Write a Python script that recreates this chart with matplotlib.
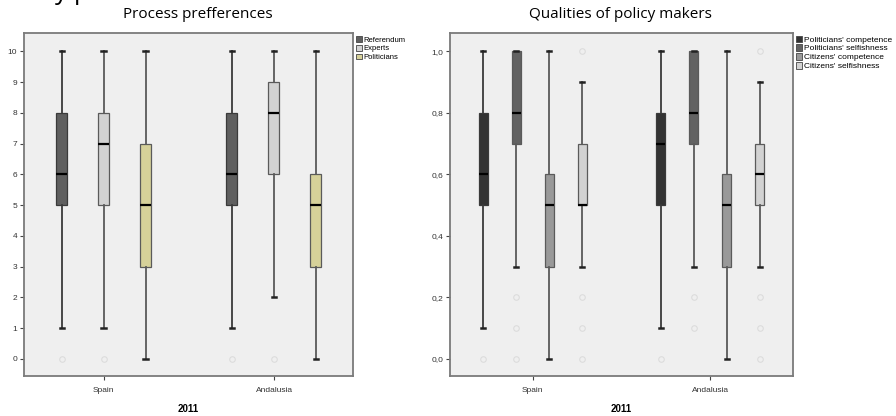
"""Two SPSS-style boxplots: process preferences and qualities of policy makers (2011)."""

import matplotlib
matplotlib.use('Agg')
import matplotlib.pyplot as plt
from matplotlib.patches import Patch

# ── Data ──
regions = ['Spain', 'Andalusia']

# Left panel: Process prefferences (0-10 scale)
proc_series = ['Referendum', 'Experts', 'Politicians']
proc_colors = ['#5f5f5f', '#d2d2d2', '#d6d199']
# per region, per series: whislo, q1, med, q3, whishi, outliers
proc_whislo = [[1, 1, 0], [1, 2, 0]]
proc_q1     = [[5, 5, 3], [5, 6, 3]]
proc_med    = [[6, 7, 5], [6, 8, 5]]
proc_q3     = [[8, 8, 7], [8, 9, 6]]
proc_whishi = [[10, 10, 10], [10, 10, 10]]
proc_fliers = [[[0], [0], []], [[0], [0], []]]

# Right panel: Qualities of policy makers (0-1 scale)
qual_series = ["Politicians' competence", "Politicians' selfishness",
               "Citizens' competence", "Citizens' selfishness"]
qual_colors = ['#333333', '#626262', '#999999', '#d2d2d2']
qual_whislo = [[0.1, 0.3, 0.0, 0.3], [0.1, 0.3, 0.0, 0.3]]
qual_q1     = [[0.5, 0.7, 0.3, 0.5], [0.5, 0.7, 0.3, 0.5]]
qual_med    = [[0.6, 0.8, 0.5, 0.5], [0.7, 0.8, 0.5, 0.6]]
qual_q3     = [[0.8, 1.0, 0.6, 0.7], [0.8, 1.0, 0.6, 0.7]]
qual_whishi = [[1.0, 1.0, 1.0, 0.9], [1.0, 1.0, 1.0, 0.9]]
qual_fliers = [[[0.0], [0.2, 0.1, 0.0], [], [1.0, 0.2, 0.1, 0.0]],
               [[0.0], [0.2, 0.1], [], [1.0, 0.2, 0.1, 0.0]]]

BG = '#efefef'
FRAME = '#7a7a7a'
TICKFONT = 'Liberation Sans'

fig = plt.figure(figsize=(8.96, 4.16), dpi=100)


def draw_panel(ax, series, colors, whislo, q1, med, q3, whishi, fliers, spacing, width):
    n = len(series)
    for r in range(len(regions)):
        for s in range(n):
            pos = r + (s - (n - 1) / 2) * spacing
            stats = [dict(whislo=whislo[r][s], q1=q1[r][s], med=med[r][s],
                          q3=q3[r][s], whishi=whishi[r][s], fliers=fliers[r][s])]
            edge = '#3a3a3a' if s == 0 else '#5a5a5a'
            ax.bxp(stats, positions=[pos], widths=width, capwidths=width * 0.4,
                   patch_artist=True, manage_ticks=False,
                   boxprops=dict(facecolor=colors[s], edgecolor=edge, linewidth=0.9),
                   medianprops=dict(color='black', linewidth=1.6),
                   whiskerprops=dict(color=edge, linewidth=1.3),
                   capprops=dict(color='#222222', linewidth=1.8),
                   flierprops=dict(marker='o', markersize=4, markerfacecolor='none',
                                   markeredgecolor='#dcdcdc', markeredgewidth=0.8))
    ax.set_facecolor(BG)
    for sp in ax.spines.values():
        sp.set_color(FRAME)
        sp.set_linewidth(1.3)
    ax.set_xticks(range(len(regions)))
    ax.set_xticklabels(regions, fontsize=6, color='#333333', family=TICKFONT)
    ax.tick_params(axis='both', length=3, width=0.8, color='#444444', labelsize=6,
                   labelcolor='#333333', pad=2)
    ax.tick_params(axis='x', pad=5)
    ax.set_xlabel('2011', fontsize=7, fontweight='bold', family=TICKFONT, labelpad=7)


# Left panel
ax1 = fig.add_axes([24 / 896, 1 - 376 / 416, 329 / 896, 343 / 416])
draw_panel(ax1, proc_series, proc_colors, proc_whislo, proc_q1, proc_med, proc_q3,
           proc_whishi, proc_fliers, spacing=0.2466, width=0.0646)
ax1.set_xlim(-0.468, 1.464)
ax1.set_ylim(-0.56, 10.6)
ax1.set_yticks(range(0, 11))
for lab in ax1.get_yticklabels():
    lab.set_family(TICKFONT)
ax1.legend(handles=[Patch(facecolor=c, edgecolor='#444444', linewidth=0.6, label=l)
                    for c, l in zip(proc_colors, proc_series)],
           loc='upper left', bbox_to_anchor=(1.0, 1.0), frameon=False,
           prop=dict(family=TICKFONT, size=5.5), handlelength=0.8, handleheight=0.8,
           handletextpad=0.2, labelspacing=0.15, borderaxespad=0.2, borderpad=0.2)
fig.text(198 / 896, 1 - 14 / 416, 'Process prefferences', ha='center', va='center',
         fontsize=11, family='Open Sans')

# Right panel
ax2 = fig.add_axes([450 / 896, 1 - 376 / 416, 343 / 896, 343 / 416])
draw_panel(ax2, qual_series, qual_colors, qual_whislo, qual_q1, qual_med, qual_q3,
           qual_whishi, qual_fliers, spacing=0.186, width=0.05)
ax2.set_xlim(-0.466, 1.466)
ax2.set_ylim(-0.056, 1.06)
qual_ticks = [0.0, 0.2, 0.4, 0.6, 0.8, 1.0]
ax2.set_yticks(qual_ticks)
ax2.set_yticklabels([f'{v:.1f}'.replace('.', ',') for v in qual_ticks], family=TICKFONT)
ax2.legend(handles=[Patch(facecolor=c, edgecolor='#444444', linewidth=0.6, label=l)
                    for c, l in zip(qual_colors, qual_series)],
           loc='upper left', bbox_to_anchor=(1.0, 1.0), frameon=False,
           prop=dict(family=TICKFONT, size=6), handlelength=0.8, handleheight=0.8,
           handletextpad=0.2, labelspacing=0.1, borderaxespad=0.1, borderpad=0.2)
fig.text(620 / 896, 1 - 14 / 416, 'Qualities of policy makers', ha='center', va='center',
         fontsize=11, family='Open Sans')

# heading fragment clipped at the very top (only descenders visible in the source)
fig.text(55 / 896, 1.0 + 1 / 416, 'y p', ha='left', va='baseline', fontsize=18,
         family='Open Sans')

fig.savefig('out.png', dpi=100)
